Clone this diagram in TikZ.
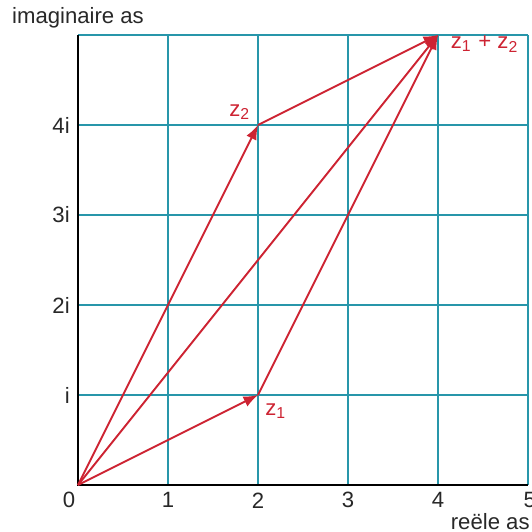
\documentclass[tikz,border=0pt]{standalone}
\usepackage{fontspec}
\setmainfont{Liberation Sans}
\definecolor{gridteal}{RGB}{40,150,170}
\definecolor{vecred}{RGB}{205,35,50}
\definecolor{labelgray}{RGB}{40,40,40}
\begin{document}
\begin{tikzpicture}[
every node/.style={
font=\fontsize{7}{8}\selectfont,
text=labelgray,
inner sep=1pt
},
vec/.style={
draw=vecred,
line width=0.6pt,
-latex
},
zlabel/.style={
text=vecred
}
]

\useasboundingbox (-0.867,-0.522) rectangle (5.044,5.389);

\draw[gridteal, line width=0.5pt] (0,0) grid (5,5);
\draw[black, line width=0.7pt] (0,5) -- (0,0) -- (5,0);

\node (O) at (-0.1,-0.17) {0};
\node (X1) at (1,-0.17) {1};
\node (X2) at (2,-0.17) {2};
\node (X3) at (3,-0.17) {3};
\node (X4) at (4,-0.17) {4};
\node (X5) at (5.02,-0.17) {5};

\node[anchor=east] (Y1) at (-0.05,1) {i};
\node[anchor=east] (Y2) at (-0.05,2) {2i};
\node[anchor=east] (Y3) at (-0.05,3) {3i};
\node[anchor=east] (Y4) at (-0.05,4) {4i};

\node (Yas) at (0,5.19) {imaginaire as};
\node (Xas) at (4.58,-0.41) {reële as};

\coordinate (P0) at (0,0);
\coordinate (P1) at (2,1);
\coordinate (P2) at (2,4);
\coordinate (PS) at (4,5);

\node[zlabel] (Z1) at (2.2,0.82) {z\textsubscript{1}};
\node[zlabel] (Z2) at (1.8,4.14) {z\textsubscript{2}};
\node[zlabel] (ZS) at (4.52,4.9) {z\textsubscript{1} + z\textsubscript{2}};

\draw[vec] (P0) -- (P1);
\draw[vec] (P0) -- (P2);
\draw[vec] (P0) -- (PS);
\draw[vec] (P1) -- (PS);
\draw[vec] (P2) -- (PS);

\end{tikzpicture}
\end{document}
